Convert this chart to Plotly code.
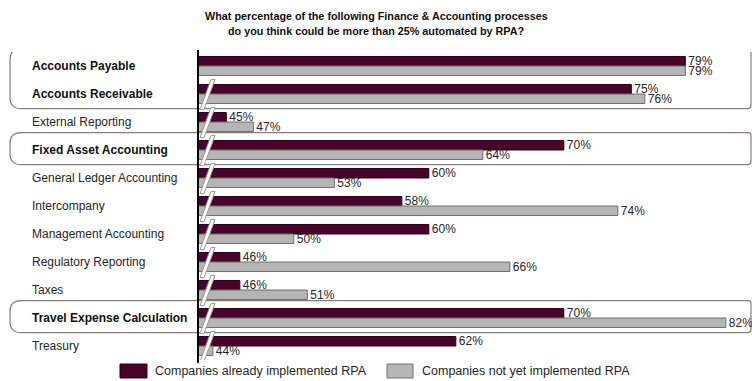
import plotly.graph_objects as go

# ---------------- data ----------------
categories = [
    "Accounts Payable", "Accounts Receivable", "External Reporting",
    "Fixed Asset Accounting", "General Ledger Accounting", "Intercompany",
    "Management Accounting", "Regulatory Reporting", "Taxes",
    "Travel Expense Calculation", "Treasury",
]
highlighted = ["Accounts Payable", "Accounts Receivable", "Fixed Asset Accounting",
               "Travel Expense Calculation"]
implemented = [79, 75, 45, 70, 60, 58, 60, 46, 46, 70, 62]
not_implemented = [79, 76, 47, 64, 53, 74, 50, 66, 51, 82, 44]
series_names = ["Companies already implemented RPA", "Companies not yet implemented RPA"]
title_lines = ["What percentage of the following Finance & Accounting processes",
               "do you think could be more than 25% automated by RPA?"]

# ---------------- styling ----------------
W, H = 752, 381
ML, MR, MT, MB = 198, 12, 52, 21
PW, PH = W - ML - MR, H - MT - MB
X0, X1 = 42.9, 83.05
DARK, DARK_LINE = "#4a0429", "#2a0016"
GREY, GREY_LINE = "#b5b5b5", "#6e6e6e"
BOX = "#8c7d78"
FONT = "Liberation Sans, Arial, Helvetica, sans-serif"
TXT = "#262626"

ypos = list(range(len(categories)))

def px_x(px):
    return (px - ML) / PW

def px_y(py):
    return (H - MB - py) / PH

fig = go.Figure()
for vals, name, col, lc in [(implemented, series_names[0], DARK, DARK_LINE),
                            (not_implemented, series_names[1], GREY, GREY_LINE)]:
    fig.add_trace(go.Bar(
        y=ypos, x=vals, orientation="h", name=name,
        marker=dict(color=col, line=dict(color=lc, width=1)),
        text=[f"{v}%" for v in vals], textposition="outside",
        textfont=dict(family=FONT, size=12, color=TXT),
        constraintext="none", cliponaxis=False, showlegend=False,
    ))

shapes = []
# highlight boxes (rounded on the left)
groups = [(0, 1), (3, 3), (9, 9)]
for a, b in groups:
    yt, yb = a - 0.5 - 0.12, b + 0.5 + 0.02
    xl, xr = px_x(10), px_x(751)
    rx = 11 / PW
    ry = 11 / 28
    rxr = 3 / PW
    ryr = 3 / 28
    path = (f"M {xl+rx},{yt} L {xr-rxr},{yt} Q {xr},{yt} {xr},{yt+ryr} "
            f"L {xr},{yb-ryr} Q {xr},{yb} {xr-rxr},{yb} "
            f"L {xl+rx},{yb} Q {xl},{yb} {xl},{yb-ry} L {xl},{yt+ry} Q {xl},{yt} {xl+rx},{yt} Z")
    shapes.append(dict(type="path", path=path, xref="paper", yref="y",
                       line=dict(color=BOX, width=1.2), fillcolor="rgba(0,0,0,0)",
                       layer="below"))

# axis-break marks
u = (X1 - X0) / PW
for i in range(1, len(categories)):
    yb, yt = i + 0.56, i - 0.52
    xb = X0 + 2 * u
    w = 4 * u
    s = 11 * u
    path = (f"M {xb},{yb} L {xb+w},{yb} L {xb+w+s},{yt} L {xb+s},{yt} Z")
    shapes.append(dict(type="path", path=path, xref="x", yref="y",
                       line=dict(color="#9a9a9a", width=1), fillcolor="white",
                       layer="above"))

# custom legend squares
for (x0, x1), col, lc in [((120, 147), DARK, DARK_LINE), ((387, 413), GREY, GREY_LINE)]:
    shapes.append(dict(type="rect", xref="paper", yref="paper",
                       x0=px_x(x0), x1=px_x(x1), y0=px_y(378), y1=px_y(364),
                       fillcolor=col, line=dict(color=lc, width=1)))

annotations = []
for i, c in enumerate(categories):
    t = f"<b>{c}</b>" if c in highlighted else c
    annotations.append(dict(text=t, x=px_x(30), y=i, xref="paper", yref="y",
                            xanchor="left", yanchor="middle", showarrow=False,
                            font=dict(family=FONT, size=12,
                                      color="#111" if c in highlighted else TXT)))
for xpx, name in [(153, series_names[0]), (420, series_names[1])]:
    annotations.append(dict(text=name, x=px_x(xpx), y=px_y(371), xref="paper", yref="paper",
                            xanchor="left", yanchor="middle", showarrow=False,
                            font=dict(family=FONT, size=12.5, color=TXT)))
for k, line in enumerate(title_lines):
    annotations.append(dict(text=f"<b>{line}</b>", x=px_x(376), y=px_y(16 + 15 * k),
                            xref="paper", yref="paper", xanchor="center", yanchor="middle",
                            showarrow=False,
                            font=dict(family=FONT, size=10.8, color="#111")))

fig.update_layout(
    width=W, height=H, margin=dict(l=ML, r=MR, t=MT, b=MB, pad=0),
    paper_bgcolor="white", plot_bgcolor="rgba(0,0,0,0)",
    barmode="group", bargap=0.32, bargroupgap=0,
    xaxis=dict(range=[X0, X1], visible=False, fixedrange=True),
    yaxis=dict(range=[len(categories) - 0.5, -0.5], showticklabels=False, ticks="",
               showgrid=False, zeroline=False, showline=False),
    shapes=shapes, annotations=annotations, showlegend=False,
)
# axis line on the left
fig.add_shape(type="line", xref="paper", yref="paper", x0=0, x1=0,
              y0=px_y(363), y1=px_y(50), line=dict(color="black", width=2), layer="above")

fig.write_html("out.html")
